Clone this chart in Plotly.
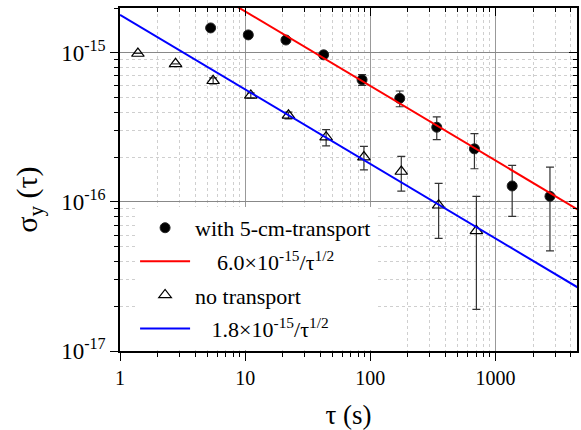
import numpy as np
import plotly.graph_objects as go

# data
tau_with = [5.3, 10.6, 21.2, 42.4, 86, 172, 340, 680, 1362, 2730]
sig_with = [1.47e-15, 1.32e-15, 1.22e-15, 9.7e-16, 6.6e-16, 4.95e-16, 3.17e-16, 2.27e-16, 1.28e-16, 1.09e-16]
err_with = [0, 0, 0, 0.25e-16, 0.55e-16, 0.6e-16, 0.55e-16, 0.6e-16, 0.48e-16, 0.62e-16]

tau_no = [1.39, 2.78, 5.55, 11.1, 22.2, 44.4, 89, 177, 352, 705]
sig_no = [9.9e-16, 8.45e-16, 6.5e-16, 5.18e-16, 3.81e-16, 2.72e-16, 2.0e-16, 1.6e-16, 9.5e-17, 6.4e-17]
err_no = [0, 0, 0.3e-16, 0.2e-16, 0.2e-16, 0.34e-16, 0.36e-16, 0.42e-16, 0.38e-16, 0.45e-16]

fit_coef = [6.0e-15, 1.8e-15]
fit_tau = [1, 5000]

x_range = [1, 4490]
y_range = [1e-17, 2e-15]

y_tickvals = [1e-17, 1e-16, 1e-15]
y_ticktext = ["10<sup>-17</sup>", "10<sup>-16</sup>", "10<sup>-15</sup>"]
x_tickvals = [1, 10, 100, 1000]
x_ticktext = ["1", "10", "100", "1000"]

FONT = "Liberation Serif"

fig = go.Figure()

fit_tau_arr = np.array(fit_tau, dtype=float)

fig.add_trace(go.Scatter(
    x=tau_with, y=sig_with, mode="markers", name="with 5-cm-transport",
    marker=dict(symbol="circle", size=10, color="black",
                line=dict(color="#222", width=1)),
    error_y=dict(type="data", array=err_with, visible=True, color="#333",
                 thickness=1.2, width=4),
    legendgroup="a",
))
fig.add_trace(go.Scatter(
    x=fit_tau_arr, y=fit_coef[0] / np.sqrt(fit_tau_arr), mode="lines",
    name="    6.0×10<sup>-15</sup>/τ<sup>1/2</sup>",
    line=dict(color="red", width=2), legendgroup="b",
))
fig.add_trace(go.Scatter(
    x=tau_no, y=sig_no, mode="markers", name="no transport",
    marker=dict(symbol="triangle-up-open", size=11, color="black",
                line=dict(color="black", width=1.2)),
    error_y=dict(type="data", array=err_no, visible=True, color="#333",
                 thickness=1.2, width=4),
    legendgroup="c",
))
fig.add_trace(go.Scatter(
    x=fit_tau_arr, y=fit_coef[1] / np.sqrt(fit_tau_arr), mode="lines",
    name="   1.8×10<sup>-15</sup>/τ<sup>1/2</sup>",
    line=dict(color="blue", width=2), legendgroup="d",
))
# invisible trace for the mirror axes
fig.add_trace(go.Scatter(x=[x_range[0]], y=[y_range[0]], xaxis="x2", yaxis="y2",
                         mode="markers", marker=dict(opacity=0), showlegend=False,
                         hoverinfo="skip"))

xr = [np.log10(x_range[0]), np.log10(x_range[1])]
yr = [np.log10(y_range[0]), np.log10(y_range[1])]

minor_grid = dict(dtick="D1", ticks="outside", ticklen=4, tickcolor="black",
                  showgrid=True, gridcolor="#cfcfcf", griddash="dot", gridwidth=1)

fig.update_layout(
    width=581, height=430,
    margin=dict(l=120, r=2, t=8, b=77),
    paper_bgcolor="white", plot_bgcolor="white",
    font=dict(family=FONT, color="black"),
    showlegend=True,
    legend=dict(x=0.033, y=0.42, xanchor="left", yanchor="top",
                bgcolor="white", borderwidth=0,
                font=dict(family=FONT, size=22, color="black"),
                tracegroupgap=2, itemwidth=50),
    xaxis=dict(type="log", range=xr, tickvals=x_tickvals, ticktext=x_ticktext,
               showline=True, linecolor="black", linewidth=1.5, mirror=True,
               ticks="outside", ticklen=8, tickwidth=1.2, tickcolor="black",
               showgrid=True, gridcolor="#999", gridwidth=1.2,
               minor=minor_grid,
               tickfont=dict(family=FONT, size=20),
               title=dict(text="τ (s)", font=dict(family=FONT, size=27), standoff=20),
               zeroline=False),
    yaxis=dict(type="log", range=yr, tickvals=y_tickvals, ticktext=y_ticktext,
               showline=True, linecolor="black", linewidth=1.5, mirror=True,
               ticks="outside", ticklen=8, tickwidth=1.2, tickcolor="black",
               showgrid=True, gridcolor="#888", gridwidth=1.2,
               minor=minor_grid,
               tickfont=dict(family=FONT, size=23),
               zeroline=False),
    xaxis2=dict(type="log", range=xr, dtick=1, overlaying="x", side="top",
                ticks="inside", ticklen=8, tickwidth=1.2, tickcolor="black",
                showticklabels=False, showgrid=False, showline=False,
                minor=dict(dtick="D1", ticks="inside", ticklen=4, tickcolor="black"),
                anchor="y2"),
    yaxis2=dict(type="log", range=yr, dtick=1, overlaying="y", side="right",
                ticks="inside", ticklen=8, tickwidth=1.2, tickcolor="black",
                showticklabels=False, showgrid=False, showline=False,
                minor=dict(dtick="D1", ticks="inside", ticklen=4, tickcolor="black"),
                anchor="x2"),
    annotations=[dict(text="σ<sub>y</sub> (τ)", textangle=-90, showarrow=False,
                      xref="paper", yref="paper", x=-0.2, y=0.44,
                      xanchor="center", yanchor="middle",
                      font=dict(family=FONT, size=30, color="black"))],
)

fig.write_html("out.html")
